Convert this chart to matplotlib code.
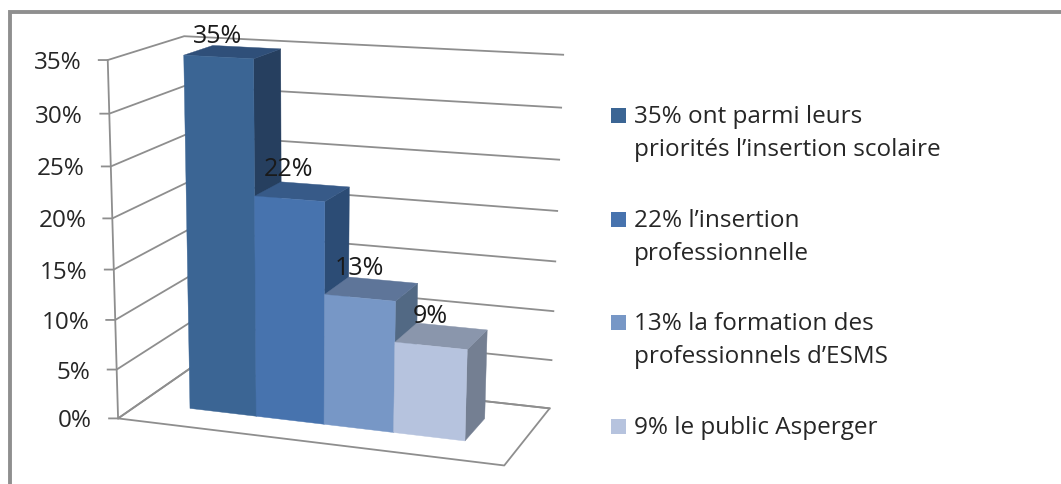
import numpy as np
import matplotlib
matplotlib.use("Agg")
import matplotlib.pyplot as plt
from matplotlib.patches import Polygon, Rectangle

# --- data -------------------------------------------------------------
values = [35, 22, 13, 9]
value_labels = ["35%", "22%", "13%", "9%"]
ticks = [0, 5, 10, 15, 20, 25, 30, 35]
tick_labels = ["0%", "5%", "10%", "15%", "20%", "25%", "30%", "35%"]
legend_labels = [
    "35% ont parmi leurs\npriorités l’insertion scolaire",
    "22% l’insertion\nprofessionnelle",
    "13% la formation des\nprofessionnels d’ESMS",
    "9% le public Asperger",
]

# --- styles -----------------------------------------------------------
front_cols = ["#3B6594", "#4773AE", "#7797C6", "#B6C3DE"]
top_cols = ["#2F4F79", "#375A88", "#5E7599", "#8A96AC"]
side_cols = ["#263F5F", "#2C4C75", "#526984", "#747F92"]
LINE = "#8E8E8E"
TEXT = "#262626"
FONT = "Open Sans"
VMAX = 35.0

# camera: model corner (x, value, depth) -> pixel, solved as a homography
cal_model = [(0, 0, 0), (0, 35, 0), (0, 35, 1), (1, 35, 1), (1, 0, 1), (1, 0, 0), (0, 0, 1)]
cal_pixel = [(119, 417), (107, 60), (185, 36), (563, 55), (550, 406.7), (504, 467), (189, 370)]


def fit_camera(model, pixel):
    rows = []
    for (x, v, d), (px, py) in zip(model, pixel):
        m = [x, v / VMAX, d, 1.0]
        rows.append(m + [0, 0, 0, 0] + [-px * c for c in m])
        rows.append([0, 0, 0, 0] + m + [-py * c for c in m])
    _, _, vt = np.linalg.svd(np.array(rows))
    return vt[-1].reshape(3, 4)


CAM = fit_camera(cal_model, cal_pixel)


def proj(x, v, d):
    p = CAM @ np.array([x, v / VMAX, d, 1.0])
    return p[0] / p[2], p[1] / p[2]


fig = plt.figure(figsize=(10.61, 4.84), dpi=100, facecolor="white")
ax = fig.add_axes([0, 0, 1, 1])
ax.set_xlim(0, 1061)
ax.set_ylim(484, 0)
ax.axis("off")

# outer frame (top and left only)
ax.plot([9.5, 9.5, 1061], [484, 12, 12], color="#8F8F8F", lw=2.8, solid_joinstyle="miter", zorder=1)

# walls, gridlines, ticks
for t, lab in zip(ticks, tick_labels):
    a, b, c = proj(0, t, 0), proj(0, t, 1), proj(1, t, 1)
    ax.plot([a[0] - 9, a[0], b[0], c[0]], [a[1], a[1], b[1], c[1]], color=LINE, lw=1.3, zorder=2)
    ax.text(a[0] - 26, a[1] + 9, lab, ha="right", va="baseline", fontsize=17.5,
            family=FONT, color=TEXT, zorder=5)
a, b = proj(0, 0, 0), proj(0, VMAX, 0)
ax.plot([a[0], b[0]], [a[1], b[1]], color=LINE, lw=1.3, zorder=2)
floor = [proj(0, 0, 1), proj(0, 0, 0), proj(1, 0, 0), proj(1, 0, 1), proj(0, 0, 1)]
ax.plot(*zip(*floor), color=LINE, lw=1.3, zorder=2)

# bars
X0, BW, D0, D1 = 0.138, 0.182, 0.30, 0.70
for i, (val, lab) in enumerate(zip(values, value_labels)):
    x0, x1 = X0 + i * BW, X0 + (i + 1) * BW
    z = 3 + i * 0.1
    side = [proj(x1, 0, D0), proj(x1, 0, D1), proj(x1, val, D1), proj(x1, val, D0)]
    top = [proj(x0, val, D0), proj(x1, val, D0), proj(x1, val, D1), proj(x0, val, D1)]
    front = [proj(x0, 0, D0), proj(x1, 0, D0), proj(x1, val, D0), proj(x0, val, D0)]
    for poly, col in ((side, side_cols[i]), (top, top_cols[i]), (front, front_cols[i])):
        ax.add_patch(Polygon(poly, closed=True, facecolor=col, edgecolor=col, lw=0.3, zorder=z))
    cx = 0.5 * (front[2][0] + front[3][0])
    cy = 0.5 * (front[2][1] + front[3][1])
    ax.text(cx - 1, max(cy - 23, 43), lab, ha="center", va="baseline", fontsize=18,
            family=FONT, color="#1a1a1a", zorder=6)

# legend
rows_y = [122.7, 226.7, 330, 433.5]
for lab, col, y in zip(legend_labels, front_cols, rows_y):
    ax.add_patch(Rectangle((611, y - 15), 15, 15, facecolor=col, edgecolor="none", zorder=5))
    for j, line in enumerate(lab.split("\n")):
        ax.text(634, y + 0.5 + j * 32.5, line, ha="left", va="baseline", fontsize=17.5,
                family=FONT, color=TEXT, zorder=5)

fig.savefig("out.png", dpi=100, facecolor="white")
